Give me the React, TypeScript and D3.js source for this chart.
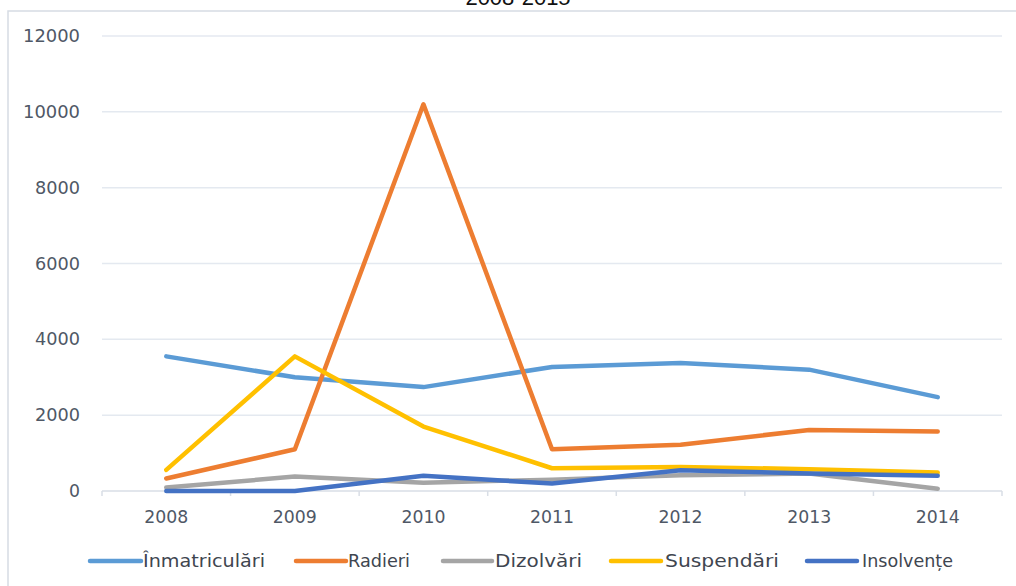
import React from "react";
import * as d3 from "d3";

const years = ["2008", "2009", "2010", "2011", "2012", "2013", "2014"];
const seriesNames = ["Înmatriculări", "Radieri", "Dizolvări", "Suspendări", "Insolvențe"];
const seriesColors = ["#5B9BD5", "#ED7D31", "#A5A5A5", "#FFC000", "#4472C4"];
const inmatriculari = [3550, 3000, 2740, 3270, 3375, 3200, 2475];
const radieri = [330, 1100, 10200, 1100, 1220, 1610, 1570];
const dizolvari = [90, 380, 220, 300, 415, 460, 60];
const suspendari = [556, 3550, 1700, 600, 636, 575, 485];
const insolvente = [0, 0, 400, 195, 550, 460, 400];
const yTicks = [0, 2000, 4000, 6000, 8000, 10000, 12000];
const titleText = "2008-2015";

const allSeries = [inmatriculari, radieri, dizolvari, suspendari, insolvente];

// legend layout: [swatchStart, swatchEnd, textStart, textWidth]
const legendLayout = [
  [90, 141, 143, 122],
  [296, 346, 348, 62],
  [443, 492, 495, 87],
  [611, 661, 665, 114],
  [807, 857, 862, 91],
];

export default function App() {
  const W = 1016;
  const H = 586;
  const x = d3.scaleBand<string>().domain(years).range([102, 1002]);
  const y = d3.scaleLinear().domain([0, 12000]).range([491, 36]);
  const line = d3
    .line<number>()
    .x((_, i) => (x(years[i]) as number) + x.bandwidth() / 2)
    .y((d) => y(d));

  const boundaries = years.map((yr) => x(yr) as number).concat([x.range()[1]]);

  return (
    <svg
      width={W}
      height={H}
      style={{ position: "absolute", left: 0, top: 0, background: "#fff" }}
      fontFamily="DejaVu Sans, sans-serif"
    >
      <rect x={0} y={0} width={W} height={H} fill="#fff" />
      <text
        x={518}
        y={5}
        textAnchor="middle"
        fontFamily="Liberation Sans, Arial, sans-serif"
        fontSize={22}
        fill="#111"
      >
        {titleText}
      </text>
      <rect x={8} y={11} width={1030} height={620} fill="none" stroke="#D6DCE4" strokeWidth={1.5} />

      {yTicks.map((t) => (
        <g key={t}>
          {t !== 0 && (
            <line x1={102} x2={1002} y1={y(t)} y2={y(t)} stroke="#E4E9F0" strokeWidth={1.5} />
          )}
          <text
            x={80}
            y={y(t) + 6}
            textAnchor="end"
            fontSize={17}
            fill="#4F5866"
            textLength={t === 0 ? 11 : t < 10000 ? 45 : 57}
            lengthAdjust="spacingAndGlyphs"
          >
            {t}
          </text>
        </g>
      ))}

      <line x1={102} x2={1002} y1={y(0)} y2={y(0)} stroke="#D9DEE6" strokeWidth={1.5} />
      {boundaries.map((b, i) => (
        <line key={i} x1={b} x2={b} y1={y(0)} y2={y(0) + 5} stroke="#D9DEE6" strokeWidth={1.5} />
      ))}

      {years.map((yr) => (
        <text
          key={yr}
          x={(x(yr) as number) + x.bandwidth() / 2}
          y={523}
          textAnchor="middle"
          fontSize={17}
          fill="#4F5866"
          textLength={44}
          lengthAdjust="spacingAndGlyphs"
        >
          {yr}
        </text>
      ))}

      {allSeries.map((s, i) => (
        <path
          key={i}
          d={line(s) as string}
          fill="none"
          stroke={seriesColors[i]}
          strokeWidth={4.5}
          strokeLinejoin="round"
          strokeLinecap="round"
        />
      ))}

      {seriesNames.map((n, i) => {
        const [sx, ex, tx, tw] = legendLayout[i];
        return (
          <g key={n}>
            <line
              x1={sx}
              x2={ex}
              y1={561}
              y2={561}
              stroke={seriesColors[i]}
              strokeWidth={4.5}
              strokeLinecap="round"
            />
            <text
              x={tx}
              y={567}
              fontSize={17}
              fill="#3F4650"
              textLength={tw}
              lengthAdjust="spacingAndGlyphs"
            >
              {n}
            </text>
          </g>
        );
      })}
    </svg>
  );
}
